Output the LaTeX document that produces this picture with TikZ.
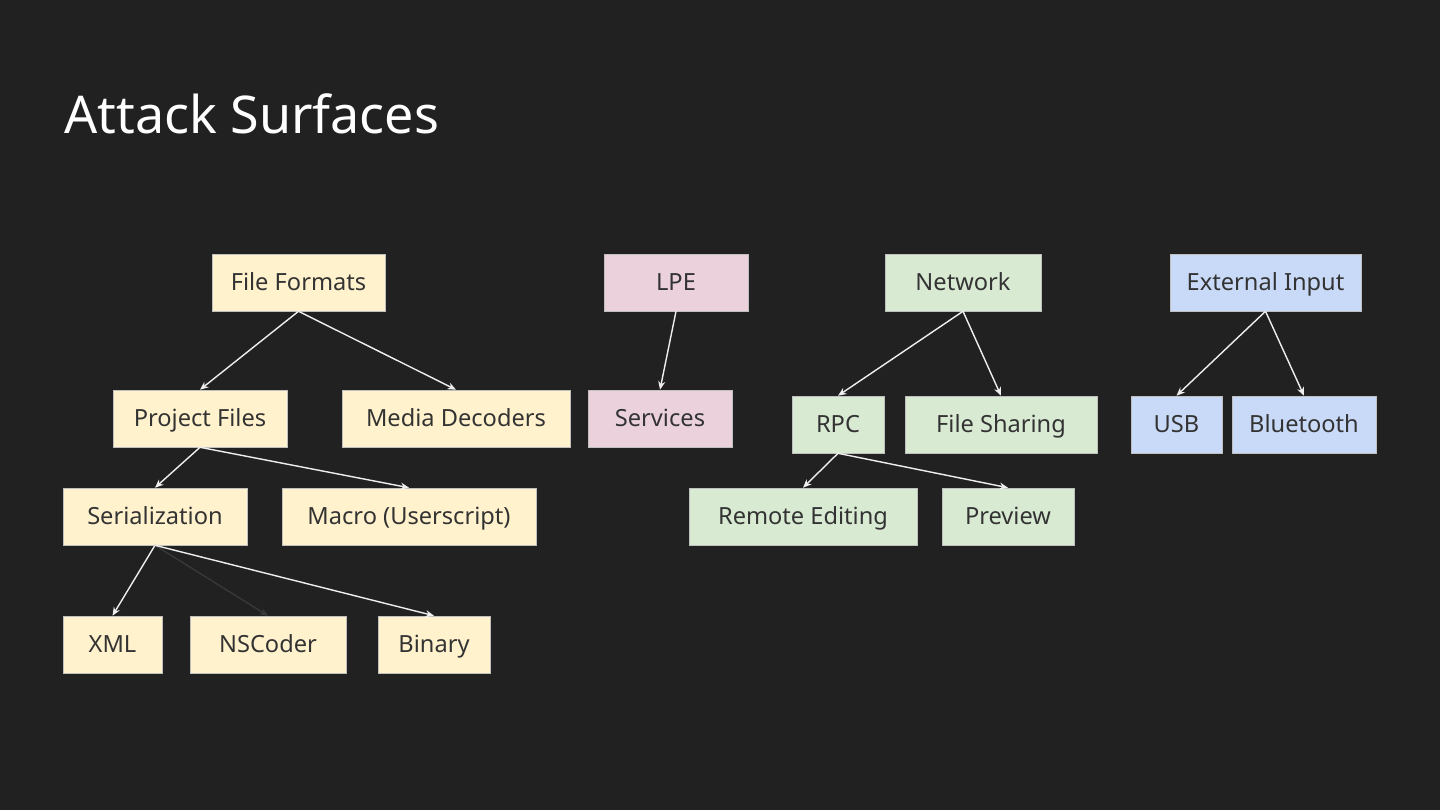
\documentclass[tikz,border=0pt]{standalone}
\usepackage{fontspec}
\setmainfont{Noto Sans}
\usepackage{tikz}
\usetikzlibrary{arrows.meta}

\definecolor{bgdark}{HTML}{212121}
\definecolor{boxtext}{HTML}{333333}
\definecolor{fileyellow}{HTML}{FFF2CC}
\definecolor{lpepink}{HTML}{EAD1DC}
\definecolor{netgreen}{HTML}{D9EAD3}
\definecolor{extblue}{HTML}{C9DAF8}
\definecolor{arrowgray}{HTML}{EEEEEE}
\definecolor{hiddengray}{HTML}{383838}

\begin{document}
\begin{tikzpicture}[
    x=0.025cm, y=-0.025cm,
    >={Stealth[length=6pt, width=5pt]},
    box/.style={draw=black!25, line width=0.4pt, rectangle, fill=#1, text=boxtext,
        minimum height=1.425cm, inner xsep=0pt, text height=11.9pt, text depth=0pt,
        font=\fontsize{16.8}{20}\selectfont},
    boxw/.style={minimum width=#1*0.025cm},
    link/.style={->, draw=arrowgray, line width=1pt}
]

    \fill[bgdark] (0,0) rectangle (1440,810);

    \node[anchor=base west, text=white, font=\fontsize{37}{44}\selectfont, inner sep=0pt]
        (title) at (64,133) {Attack Surfaces};

    % file formats tree
    \node[box=fileyellow, boxw=173] (formats)  at (298.5,282.5) {File Formats};
    \node[box=fileyellow, boxw=174] (project)  at (200,418.5)   {Project Files};
    \node[box=fileyellow, boxw=228] (media)    at (456,418.5)   {Media Decoders};
    \node[box=fileyellow, boxw=184] (serial)   at (155,516.5)   {Serialization};
    \node[box=fileyellow, boxw=254] (macro)    at (409,516.5)   {Macro (Userscript)};
    \node[box=fileyellow, boxw=99]  (xml)      at (112.5,644.5) {XML};
    \node[box=fileyellow, boxw=156] (nscoder)  at (268,644.5)   {NSCoder};
    \node[box=fileyellow, boxw=112] (binary)   at (434,644.5)   {Binary};

    % lpe
    \node[box=lpepink, boxw=144] (lpe)      at (676,282.5) {LPE};
    \node[box=lpepink, boxw=144] (services) at (660,418.5) {Services};

    % network
    \node[box=netgreen, boxw=156] (network) at (963,282.5)  {Network};
    \node[box=netgreen, boxw=92]  (rpc)     at (838,424.5)  {RPC};
    \node[box=netgreen, boxw=192] (sharing) at (1001,424.5) {File Sharing};
    \node[box=netgreen, boxw=228] (remote)  at (803,516.5)  {Remote Editing};
    \node[box=netgreen, boxw=132] (preview) at (1008,516.5) {Preview};

    % external input
    \node[box=extblue, boxw=191] (external)  at (1265.5,282.5) {External Input};
    \node[box=extblue, boxw=91]  (usb)       at (1176.5,424.5) {USB};
    \node[box=extblue, boxw=144] (bluetooth) at (1304,424.5)   {Bluetooth};

    \draw[link] (formats.south) -- (project.north);
    \draw[link] (formats.south) -- (media.north);
    \draw[link] (project.south) -- (serial.north);
    \draw[link] (project.south) -- (macro.north);
    \draw[link] (serial.south) -- (xml.north);
    \draw[link, draw=hiddengray] (serial.south) -- (nscoder.north);
    \draw[link] (serial.south) -- (binary.north);

    \draw[link] (lpe.south) -- (services.north);

    \draw[link] (network.south) -- (rpc.north);
    \draw[link] (network.south) -- (sharing.north);
    \draw[link] (rpc.south) -- (remote.north);
    \draw[link] (rpc.south) -- (preview.north);

    \draw[link] (external.south) -- (usb.north);
    \draw[link] (external.south) -- (bluetooth.north);

\end{tikzpicture}
\end{document}
